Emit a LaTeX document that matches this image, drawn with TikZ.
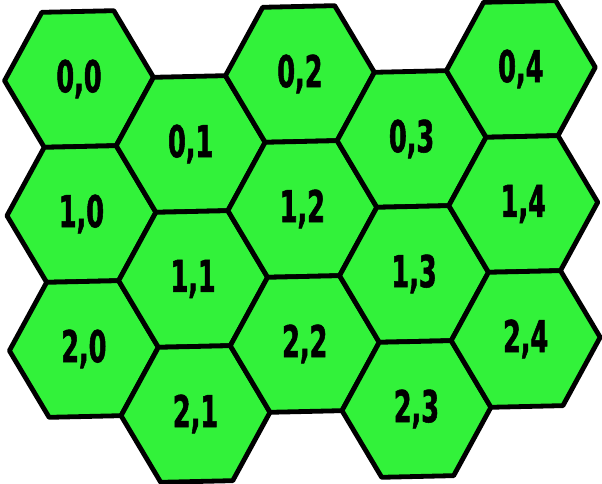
\documentclass[tikz,border=0pt]{standalone}
\usepackage{fontspec}
\newfontfamily\hexfont{DejaVu Sans}[FakeStretch=0.58, FakeBold=1.2]
\usetikzlibrary{calc}
\definecolor{hexgreen}{RGB}{50,242,58}
\tikzset{hex cell/.style={draw=black, fill=hexgreen, line width=4.8pt, line join=round},
  hex label/.style={font=\hexfont\bfseries\fontsize{44}{44}\selectfont, inner sep=0pt}}

\begin{document}
\begin{tikzpicture}[x=1pt,y=-1pt]
  \useasboundingbox (0,0) rectangle (602,484);
  \begin{scope}[shift={(79,79)}, xslant=-0.018, yslant=0.0227]
    % one tile per row and column, odd columns half a row lower
    \foreach \c in {0,...,4}
      \foreach \r in {0,1,2} {
        \pgfmathsetmacro\hx{110.5*\c}
        \pgfmathsetmacro\hy{135*\r + 67.5*mod(\c,2)}
        \draw[hex cell] (\hx,\hy) +(-74.5,0) -- +(-36,-67.5) -- +(36,-67.5)
          -- +(74.5,0) -- +(36,67.5) -- +(-36,67.5) -- cycle;
        \node[hex label] (h-\r-\c) at (\hx,\hy) {\r,\c};
      }
  \end{scope}
\end{tikzpicture}
\end{document}
